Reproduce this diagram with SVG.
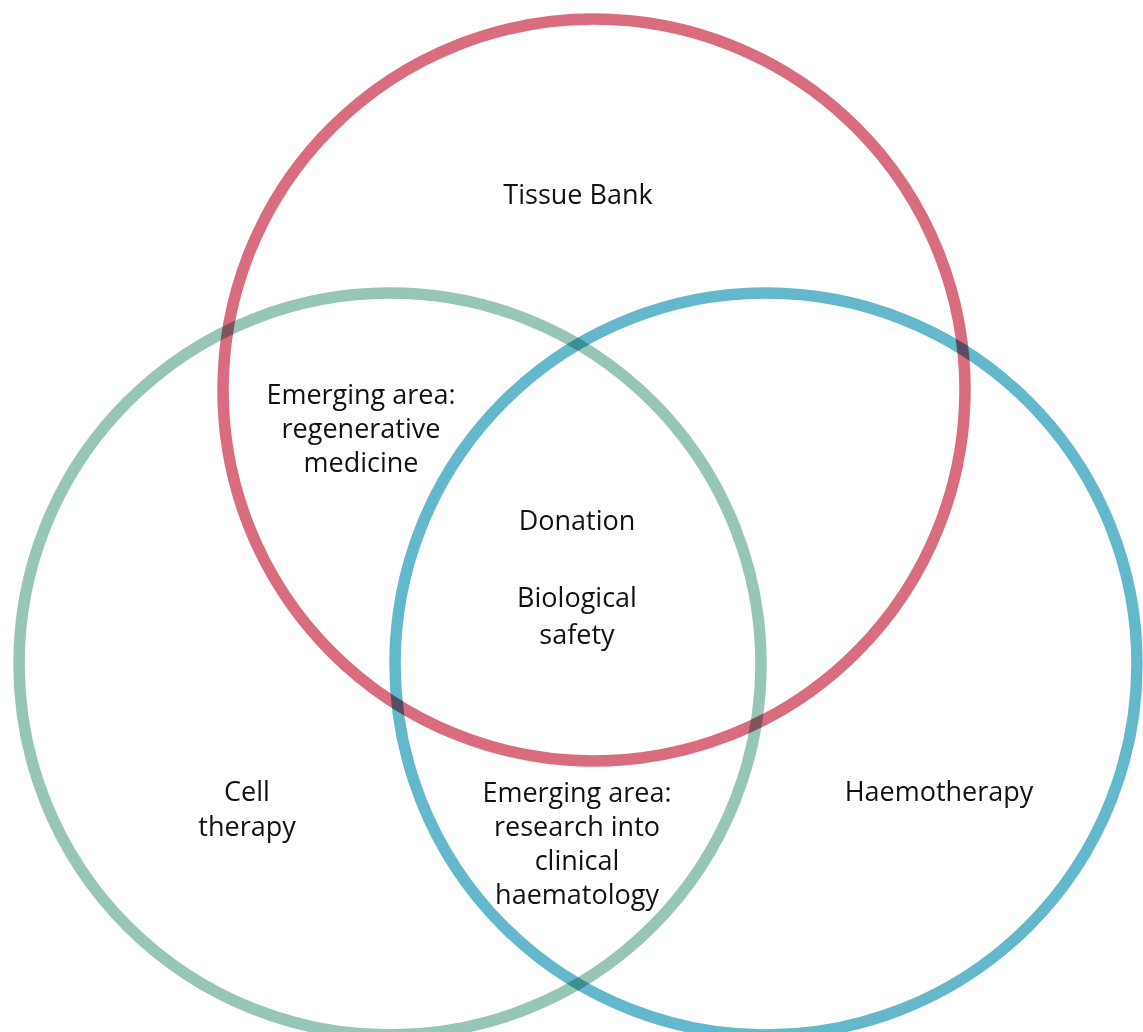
<svg xmlns="http://www.w3.org/2000/svg" width="1143" height="1032" viewBox="0 0 1143 1032">
<style>
.c{fill:none;stroke-width:11.5;mix-blend-mode:multiply}
text{font-family:"Open Sans","Noto Sans","Liberation Sans",sans-serif;font-size:27px;fill:#111;text-anchor:middle}
</style>
<rect width="1143" height="1032" fill="#fff"/>
<g id="connectors"></g>
<g id="tissue-bank"><circle class="c" cx="594" cy="390" r="371" stroke="#D96C7E"/><text x="578" y="204">Tissue Bank</text></g>
<g id="cell-therapy"><circle class="c" cx="390" cy="664" r="371" stroke="#97C5B8"/><text x="247" y="801">Cell</text><text x="247" y="836">therapy</text></g>
<g id="haemotherapy"><circle class="c" cx="766" cy="664" r="371" stroke="#63B8CB"/><text x="939" y="801">Haemotherapy</text></g>
<g id="regenerative"><text x="361" y="404">Emerging area:</text><text x="361" y="438">regenerative</text><text x="361" y="472">medicine</text></g>
<g id="core"><text x="577" y="530">Donation</text><text x="577" y="607">Biological</text><text x="577" y="644">safety</text></g>
<g id="haematology"><text x="577" y="802">Emerging area:</text><text x="577" y="836">research into</text><text x="577" y="870">clinical</text><text x="577" y="904">haematology</text></g>
</svg>
